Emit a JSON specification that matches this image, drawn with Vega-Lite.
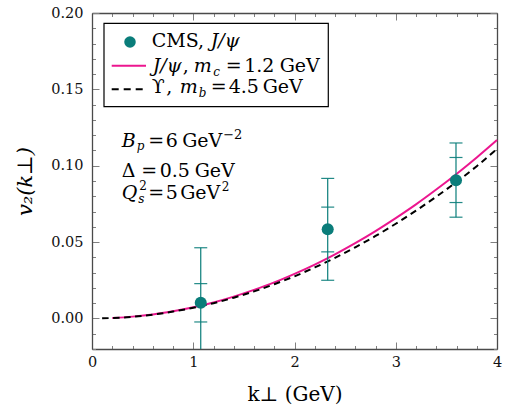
{
  "$schema": "https://vega.github.io/schema/vega-lite/v6.json",
  "width": 405,
  "height": 336,
  "autosize": {"type": "none"},
  "padding": {"left": 92, "top": 13, "right": 12, "bottom": 71},
  "background": "white",
  "config": {
    "view": {"stroke": null},
    "axis": {
      "grid": false,
      "domainColor": "#4a4a4a",
      "domainWidth": 1.3,
      "tickColor": "#808080",
      "tickWidth": 1,
      "labelFont": "DejaVu Serif",
      "labelFontSize": 14.5,
      "labelColor": "#111111",
      "labelFlush": false,
      "labelOverlap": false,
      "labelBound": false,
      "titleFont": "DejaVu Serif",
      "titleFontWeight": "normal",
      "titleColor": "#000000"
    }
  },
  "datasets": {
    "curves": [
      {"k": 0.2, "v": 0.0003, "model": "jpsi"},
      {"k": 0.4, "v": 0.0012, "model": "jpsi"},
      {"k": 0.6, "v": 0.0026, "model": "jpsi"},
      {"k": 0.8, "v": 0.0047, "model": "jpsi"},
      {"k": 1.0, "v": 0.0073, "model": "jpsi"},
      {"k": 1.2, "v": 0.0105, "model": "jpsi"},
      {"k": 1.4, "v": 0.0143, "model": "jpsi"},
      {"k": 1.6, "v": 0.0187, "model": "jpsi"},
      {"k": 1.8, "v": 0.0236, "model": "jpsi"},
      {"k": 2.0, "v": 0.0292, "model": "jpsi"},
      {"k": 2.2, "v": 0.0353, "model": "jpsi"},
      {"k": 2.4, "v": 0.0420, "model": "jpsi"},
      {"k": 2.6, "v": 0.0493, "model": "jpsi"},
      {"k": 2.8, "v": 0.0572, "model": "jpsi"},
      {"k": 3.0, "v": 0.0657, "model": "jpsi"},
      {"k": 3.2, "v": 0.0747, "model": "jpsi"},
      {"k": 3.4, "v": 0.0844, "model": "jpsi"},
      {"k": 3.6, "v": 0.0946, "model": "jpsi"},
      {"k": 3.8, "v": 0.1054, "model": "jpsi"},
      {"k": 4.0, "v": 0.1168, "model": "jpsi"},
      {"k": 0.1, "v": 0.0001, "model": "upsilon"},
      {"k": 0.2, "v": 0.0003, "model": "upsilon"},
      {"k": 0.4, "v": 0.0011, "model": "upsilon"},
      {"k": 0.6, "v": 0.0025, "model": "upsilon"},
      {"k": 0.8, "v": 0.0045, "model": "upsilon"},
      {"k": 1.0, "v": 0.0070, "model": "upsilon"},
      {"k": 1.2, "v": 0.0100, "model": "upsilon"},
      {"k": 1.4, "v": 0.0136, "model": "upsilon"},
      {"k": 1.6, "v": 0.0177, "model": "upsilon"},
      {"k": 1.8, "v": 0.0224, "model": "upsilon"},
      {"k": 2.0, "v": 0.0276, "model": "upsilon"},
      {"k": 2.2, "v": 0.0334, "model": "upsilon"},
      {"k": 2.4, "v": 0.0397, "model": "upsilon"},
      {"k": 2.6, "v": 0.0466, "model": "upsilon"},
      {"k": 2.8, "v": 0.0540, "model": "upsilon"},
      {"k": 3.0, "v": 0.0620, "model": "upsilon"},
      {"k": 3.2, "v": 0.0706, "model": "upsilon"},
      {"k": 3.4, "v": 0.0797, "model": "upsilon"},
      {"k": 3.6, "v": 0.0894, "model": "upsilon"},
      {"k": 3.8, "v": 0.0997, "model": "upsilon"},
      {"k": 4.0, "v": 0.1110, "model": "upsilon"}
    ],
    "cms": [
      {"k": 1.074, "v": 0.0103, "stat_lo": -0.0023, "stat_hi": 0.0228, "tot_lo": -0.026, "tot_hi": 0.0463},
      {"k": 2.328, "v": 0.0584, "stat_lo": 0.0436, "stat_hi": 0.0729, "tot_lo": 0.025, "tot_hi": 0.0917},
      {"k": 3.595, "v": 0.0905, "stat_lo": 0.0759, "stat_hi": 0.1054, "tot_lo": 0.0663, "tot_hi": 0.1149}
    ]
  },
  "layer": [
    {
      "data": {"name": "curves"},
      "transform": [{"filter": "datum.model === 'jpsi'"}],
      "mark": {"type": "line", "color": "#ec168f", "strokeWidth": 2, "interpolate": "monotone"},
      "encoding": {
        "x": {
          "field": "k", "type": "quantitative",
          "scale": {"domain": [0, 4], "nice": false, "zero": false},
          "axis": {
            "orient": "bottom",
            "values": [0, 0.2, 0.4, 0.6, 0.8, 1, 1.2, 1.4, 1.6, 1.8, 2, 2.2, 2.4, 2.6, 2.8, 3, 3.2, 3.4, 3.6, 3.8, 4],
            "labelExpr": "abs(datum.value - round(datum.value)) < 0.001 ? format(datum.value, 'd') : ''",
            "tickSize": {"condition": {"test": "abs(datum.value - round(datum.value)) < 0.001", "value": -7}, "value": -3.5},
            "labelPadding": 13,
            "title": "k⊥ (GeV)",
            "titleFontSize": 20,
            "titleY": 51,
            "titleBaseline": "alphabetic"
          }
        },
        "y": {
          "field": "v", "type": "quantitative",
          "scale": {"domain": [-0.02, 0.2], "nice": false, "zero": false},
          "axis": {
            "orient": "left",
            "values": [-0.02, -0.01, 0, 0.01, 0.02, 0.03, 0.04, 0.05, 0.06, 0.07, 0.08, 0.09, 0.1, 0.11, 0.12, 0.13, 0.14, 0.15, 0.16, 0.17, 0.18, 0.19, 0.2],
            "labelExpr": "abs(datum.value * 20 - round(datum.value * 20)) < 0.001 ? format(datum.value, '.2f') : ''",
            "tickSize": {"condition": {"test": "abs(datum.value * 20 - round(datum.value * 20)) < 0.001", "value": -7}, "value": -3.5},
            "labelPadding": 16,
            "title": "v₂(k⊥)",
            "titleFontSize": 21,
            "titleFontStyle": "italic",
            "titleX": -67,
            "titleY": 168,
            "titleBaseline": "middle"
          }
        }
      }
    },
    {
      "data": {"name": "curves"},
      "transform": [{"filter": "datum.model === 'upsilon'"}],
      "mark": {"type": "line", "color": "#000000", "strokeWidth": 2, "strokeDash": [6.5, 4.5], "interpolate": "monotone"},
      "encoding": {
        "x": {
          "field": "k", "type": "quantitative",
          "scale": {"domain": [0, 4], "nice": false, "zero": false},
          "axis": {
            "orient": "top",
            "values": [0, 0.2, 0.4, 0.6, 0.8, 1, 1.2, 1.4, 1.6, 1.8, 2, 2.2, 2.4, 2.6, 2.8, 3, 3.2, 3.4, 3.6, 3.8, 4],
            "labels": false,
            "tickSize": {"condition": {"test": "abs(datum.value - round(datum.value)) < 0.001", "value": -7}, "value": -3.5},
            "title": null
          }
        },
        "y": {
          "field": "v", "type": "quantitative",
          "scale": {"domain": [-0.02, 0.2], "nice": false, "zero": false},
          "axis": {
            "orient": "right",
            "values": [-0.02, -0.01, 0, 0.01, 0.02, 0.03, 0.04, 0.05, 0.06, 0.07, 0.08, 0.09, 0.1, 0.11, 0.12, 0.13, 0.14, 0.15, 0.16, 0.17, 0.18, 0.19, 0.2],
            "labels": false,
            "tickSize": {"condition": {"test": "abs(datum.value * 20 - round(datum.value * 20)) < 0.001", "value": -7}, "value": -3.5},
            "title": null
          }
        }
      }
    },
    {
      "data": {"name": "cms"},
      "mark": {"type": "rule", "color": "#0a7d7a", "strokeWidth": 1.2, "clip": true},
      "encoding": {
        "x": {"field": "k", "type": "quantitative", "axis": null},
        "y": {"field": "tot_lo", "type": "quantitative", "axis": null},
        "y2": {"field": "tot_hi"}
      }
    },
    {
      "data": {"name": "cms"},
      "transform": [{"fold": ["stat_lo", "stat_hi", "tot_lo", "tot_hi"], "as": ["bound", "edge"]}],
      "mark": {"type": "tick", "orient": "horizontal", "color": "#0a7d7a", "size": 13, "thickness": 1.2, "opacity": 0.9, "clip": true},
      "encoding": {
        "x": {"field": "k", "type": "quantitative", "axis": null},
        "y": {"field": "edge", "type": "quantitative", "axis": null}
      }
    },
    {
      "data": {"name": "cms"},
      "mark": {"type": "circle", "color": "#0a7d7a", "opacity": 1, "size": 145},
      "encoding": {
        "x": {"field": "k", "type": "quantitative", "axis": null},
        "y": {"field": "v", "type": "quantitative", "axis": null}
      }
    },
    {
      "data": {"values": [{}]},
      "mark": {"type": "rect", "fill": "white", "stroke": "#000000", "strokeWidth": 1.2},
      "encoding": {
        "x": {"datum": 0.1185, "type": "quantitative", "axis": null},
        "x2": {"datum": 2.3338},
        "y": {"datum": 0.19326, "type": "quantitative", "axis": null},
        "y2": {"datum": 0.13865}
      }
    },
    {
      "data": {"values": [{}]},
      "mark": {"type": "circle", "color": "#0a7d7a", "opacity": 1, "size": 133},
      "encoding": {
        "x": {"datum": 0.3753, "type": "quantitative", "axis": null},
        "y": {"datum": 0.18101, "type": "quantitative", "axis": null}
      }
    },
    {
      "data": {"values": [{}]},
      "mark": {"type": "rule", "color": "#ec168f", "strokeWidth": 2},
      "encoding": {
        "x": {"datum": 0.1946, "type": "quantitative", "axis": null},
        "x2": {"datum": 0.5333},
        "y": {"datum": 0.16549, "type": "quantitative", "axis": null}
      }
    },
    {
      "data": {"values": [{}]},
      "mark": {"type": "rule", "color": "#000000", "strokeWidth": 2, "strokeDash": [7, 5]},
      "encoding": {
        "x": {"datum": 0.1946, "type": "quantitative", "axis": null},
        "x2": {"datum": 0.5333},
        "y": {"datum": 0.15004, "type": "quantitative", "axis": null}
      }
    },

    {"data": {"values": [{}]}, "mark": {"type": "text", "text": "CMS,", "font": "DejaVu Serif", "fontSize": 19, "align": "left", "baseline": "alphabetic", "color": "#000", "dx": 0},
     "encoding": {"x": {"datum": 0.5896, "type": "quantitative", "axis": null}, "y": {"datum": 0.17774, "type": "quantitative", "axis": null}}},
    {"data": {"values": [{}]}, "mark": {"type": "text", "text": "J/ψ", "font": "DejaVu Serif", "fontSize": 19, "fontStyle": "italic", "align": "left", "baseline": "alphabetic", "color": "#000", "dx": 59},
     "encoding": {"x": {"datum": 0.5896, "type": "quantitative", "axis": null}, "y": {"datum": 0.17774, "type": "quantitative", "axis": null}}},

    {"data": {"values": [{}]}, "mark": {"type": "text", "text": "J/ψ", "font": "DejaVu Serif", "fontSize": 19, "fontStyle": "italic", "align": "left", "baseline": "alphabetic", "color": "#000", "dx": 1},
     "encoding": {"x": {"datum": 0.5896, "type": "quantitative", "axis": null}, "y": {"datum": 0.16137, "type": "quantitative", "axis": null}}},
    {"data": {"values": [{}]}, "mark": {"type": "text", "text": ",", "font": "DejaVu Serif", "fontSize": 19, "align": "left", "baseline": "alphabetic", "color": "#000", "dx": 31},
     "encoding": {"x": {"datum": 0.5896, "type": "quantitative", "axis": null}, "y": {"datum": 0.16137, "type": "quantitative", "axis": null}}},
    {"data": {"values": [{}]}, "mark": {"type": "text", "text": "m", "font": "DejaVu Serif", "fontSize": 19, "fontStyle": "italic", "align": "left", "baseline": "alphabetic", "color": "#000", "dx": 42},
     "encoding": {"x": {"datum": 0.5896, "type": "quantitative", "axis": null}, "y": {"datum": 0.16137, "type": "quantitative", "axis": null}}},
    {"data": {"values": [{}]}, "mark": {"type": "text", "text": "c", "font": "DejaVu Serif", "fontSize": 12, "fontStyle": "italic", "align": "left", "baseline": "alphabetic", "color": "#000", "dx": 61.5, "dy": 4},
     "encoding": {"x": {"datum": 0.5896, "type": "quantitative", "axis": null}, "y": {"datum": 0.16137, "type": "quantitative", "axis": null}}},
    {"data": {"values": [{}]}, "mark": {"type": "text", "text": "=", "font": "DejaVu Serif", "fontSize": 19, "align": "left", "baseline": "alphabetic", "color": "#000", "dx": 74},
     "encoding": {"x": {"datum": 0.5896, "type": "quantitative", "axis": null}, "y": {"datum": 0.16137, "type": "quantitative", "axis": null}}},
    {"data": {"values": [{}]}, "mark": {"type": "text", "text": "1.2", "font": "DejaVu Serif", "fontSize": 19, "align": "left", "baseline": "alphabetic", "color": "#000", "dx": 92.5},
     "encoding": {"x": {"datum": 0.5896, "type": "quantitative", "axis": null}, "y": {"datum": 0.16137, "type": "quantitative", "axis": null}}},
    {"data": {"values": [{}]}, "mark": {"type": "text", "text": "GeV", "font": "DejaVu Serif", "fontSize": 19, "align": "left", "baseline": "alphabetic", "color": "#000", "dx": 128},
     "encoding": {"x": {"datum": 0.5896, "type": "quantitative", "axis": null}, "y": {"datum": 0.16137, "type": "quantitative", "axis": null}}},

    {"data": {"values": [{}]}, "mark": {"type": "text", "text": "ϒ", "font": "DejaVu Serif", "fontSize": 19, "align": "left", "baseline": "alphabetic", "color": "#000", "dx": 0},
     "encoding": {"x": {"datum": 0.5896, "type": "quantitative", "axis": null}, "y": {"datum": 0.14742, "type": "quantitative", "axis": null}}},
    {"data": {"values": [{}]}, "mark": {"type": "text", "text": ",", "font": "DejaVu Serif", "fontSize": 19, "align": "left", "baseline": "alphabetic", "color": "#000", "dx": 14.5},
     "encoding": {"x": {"datum": 0.5896, "type": "quantitative", "axis": null}, "y": {"datum": 0.14742, "type": "quantitative", "axis": null}}},
    {"data": {"values": [{}]}, "mark": {"type": "text", "text": "m", "font": "DejaVu Serif", "fontSize": 19, "fontStyle": "italic", "align": "left", "baseline": "alphabetic", "color": "#000", "dx": 28},
     "encoding": {"x": {"datum": 0.5896, "type": "quantitative", "axis": null}, "y": {"datum": 0.14742, "type": "quantitative", "axis": null}}},
    {"data": {"values": [{}]}, "mark": {"type": "text", "text": "b", "font": "DejaVu Serif", "fontSize": 12, "fontStyle": "italic", "align": "left", "baseline": "alphabetic", "color": "#000", "dx": 47, "dy": 4},
     "encoding": {"x": {"datum": 0.5896, "type": "quantitative", "axis": null}, "y": {"datum": 0.14742, "type": "quantitative", "axis": null}}},
    {"data": {"values": [{}]}, "mark": {"type": "text", "text": "=", "font": "DejaVu Serif", "fontSize": 19, "align": "left", "baseline": "alphabetic", "color": "#000", "dx": 59},
     "encoding": {"x": {"datum": 0.5896, "type": "quantitative", "axis": null}, "y": {"datum": 0.14742, "type": "quantitative", "axis": null}}},
    {"data": {"values": [{}]}, "mark": {"type": "text", "text": "4.5", "font": "DejaVu Serif", "fontSize": 19, "align": "left", "baseline": "alphabetic", "color": "#000", "dx": 77},
     "encoding": {"x": {"datum": 0.5896, "type": "quantitative", "axis": null}, "y": {"datum": 0.14742, "type": "quantitative", "axis": null}}},
    {"data": {"values": [{}]}, "mark": {"type": "text", "text": "GeV", "font": "DejaVu Serif", "fontSize": 19, "align": "left", "baseline": "alphabetic", "color": "#000", "dx": 111},
     "encoding": {"x": {"datum": 0.5896, "type": "quantitative", "axis": null}, "y": {"datum": 0.14742, "type": "quantitative", "axis": null}}},

    {"data": {"values": [{}]}, "mark": {"type": "text", "text": "B", "font": "DejaVu Serif", "fontSize": 19, "fontStyle": "italic", "align": "left", "baseline": "alphabetic", "color": "#000", "dx": 0},
     "encoding": {"x": {"datum": 0.2933, "type": "quantitative", "axis": null}, "y": {"datum": 0.11246, "type": "quantitative", "axis": null}}},
    {"data": {"values": [{}]}, "mark": {"type": "text", "text": "p", "font": "DejaVu Serif", "fontSize": 12, "fontStyle": "italic", "align": "left", "baseline": "alphabetic", "color": "#000", "dx": 15, "dy": 3.5},
     "encoding": {"x": {"datum": 0.2933, "type": "quantitative", "axis": null}, "y": {"datum": 0.11246, "type": "quantitative", "axis": null}}},
    {"data": {"values": [{}]}, "mark": {"type": "text", "text": "=", "font": "DejaVu Serif", "fontSize": 19, "align": "left", "baseline": "alphabetic", "color": "#000", "dx": 26.5},
     "encoding": {"x": {"datum": 0.2933, "type": "quantitative", "axis": null}, "y": {"datum": 0.11246, "type": "quantitative", "axis": null}}},
    {"data": {"values": [{}]}, "mark": {"type": "text", "text": "6", "font": "DejaVu Serif", "fontSize": 19, "align": "left", "baseline": "alphabetic", "color": "#000", "dx": 44},
     "encoding": {"x": {"datum": 0.2933, "type": "quantitative", "axis": null}, "y": {"datum": 0.11246, "type": "quantitative", "axis": null}}},
    {"data": {"values": [{}]}, "mark": {"type": "text", "text": "GeV", "font": "DejaVu Serif", "fontSize": 19, "align": "left", "baseline": "alphabetic", "color": "#000", "dx": 60.5},
     "encoding": {"x": {"datum": 0.2933, "type": "quantitative", "axis": null}, "y": {"datum": 0.11246, "type": "quantitative", "axis": null}}},
    {"data": {"values": [{}]}, "mark": {"type": "text", "text": "−2", "font": "DejaVu Serif", "fontSize": 13, "align": "left", "baseline": "alphabetic", "color": "#000", "dx": 101.5, "dy": -8},
     "encoding": {"x": {"datum": 0.2933, "type": "quantitative", "axis": null}, "y": {"datum": 0.11246, "type": "quantitative", "axis": null}}},

    {"data": {"values": [{}]}, "mark": {"type": "text", "text": "Δ", "font": "DejaVu Serif", "fontSize": 19, "align": "left", "baseline": "alphabetic", "color": "#000", "dx": 0},
     "encoding": {"x": {"datum": 0.2933, "type": "quantitative", "axis": null}, "y": {"datum": 0.09282, "type": "quantitative", "axis": null}}},
    {"data": {"values": [{}]}, "mark": {"type": "text", "text": "=", "font": "DejaVu Serif", "fontSize": 19, "align": "left", "baseline": "alphabetic", "color": "#000", "dx": 19.5},
     "encoding": {"x": {"datum": 0.2933, "type": "quantitative", "axis": null}, "y": {"datum": 0.09282, "type": "quantitative", "axis": null}}},
    {"data": {"values": [{}]}, "mark": {"type": "text", "text": "0.5", "font": "DejaVu Serif", "fontSize": 19, "align": "left", "baseline": "alphabetic", "color": "#000", "dx": 38},
     "encoding": {"x": {"datum": 0.2933, "type": "quantitative", "axis": null}, "y": {"datum": 0.09282, "type": "quantitative", "axis": null}}},
    {"data": {"values": [{}]}, "mark": {"type": "text", "text": "GeV", "font": "DejaVu Serif", "fontSize": 19, "align": "left", "baseline": "alphabetic", "color": "#000", "dx": 73},
     "encoding": {"x": {"datum": 0.2933, "type": "quantitative", "axis": null}, "y": {"datum": 0.09282, "type": "quantitative", "axis": null}}},

    {"data": {"values": [{}]}, "mark": {"type": "text", "text": "Q", "font": "DejaVu Serif", "fontSize": 19, "fontStyle": "italic", "align": "left", "baseline": "alphabetic", "color": "#000", "dx": 0},
     "encoding": {"x": {"datum": 0.2933, "type": "quantitative", "axis": null}, "y": {"datum": 0.07822, "type": "quantitative", "axis": null}}},
    {"data": {"values": [{}]}, "mark": {"type": "text", "text": "2", "font": "DejaVu Serif", "fontSize": 12, "align": "left", "baseline": "alphabetic", "color": "#000", "dx": 17.5, "dy": -8.5},
     "encoding": {"x": {"datum": 0.2933, "type": "quantitative", "axis": null}, "y": {"datum": 0.07822, "type": "quantitative", "axis": null}}},
    {"data": {"values": [{}]}, "mark": {"type": "text", "text": "s", "font": "DejaVu Serif", "fontSize": 12, "fontStyle": "italic", "align": "left", "baseline": "alphabetic", "color": "#000", "dx": 16.5, "dy": 4.5},
     "encoding": {"x": {"datum": 0.2933, "type": "quantitative", "axis": null}, "y": {"datum": 0.07822, "type": "quantitative", "axis": null}}},
    {"data": {"values": [{}]}, "mark": {"type": "text", "text": "=", "font": "DejaVu Serif", "fontSize": 19, "align": "left", "baseline": "alphabetic", "color": "#000", "dx": 26.5},
     "encoding": {"x": {"datum": 0.2933, "type": "quantitative", "axis": null}, "y": {"datum": 0.07822, "type": "quantitative", "axis": null}}},
    {"data": {"values": [{}]}, "mark": {"type": "text", "text": "5", "font": "DejaVu Serif", "fontSize": 19, "align": "left", "baseline": "alphabetic", "color": "#000", "dx": 44},
     "encoding": {"x": {"datum": 0.2933, "type": "quantitative", "axis": null}, "y": {"datum": 0.07822, "type": "quantitative", "axis": null}}},
    {"data": {"values": [{}]}, "mark": {"type": "text", "text": "GeV", "font": "DejaVu Serif", "fontSize": 19, "align": "left", "baseline": "alphabetic", "color": "#000", "dx": 58.5},
     "encoding": {"x": {"datum": 0.2933, "type": "quantitative", "axis": null}, "y": {"datum": 0.07822, "type": "quantitative", "axis": null}}},
    {"data": {"values": [{}]}, "mark": {"type": "text", "text": "2", "font": "DejaVu Serif", "fontSize": 12, "align": "left", "baseline": "alphabetic", "color": "#000", "dx": 100, "dy": -8},
     "encoding": {"x": {"datum": 0.2933, "type": "quantitative", "axis": null}, "y": {"datum": 0.07822, "type": "quantitative", "axis": null}}}
  ],
  "resolve": {"axis": {"x": "independent", "y": "independent"}}
}
